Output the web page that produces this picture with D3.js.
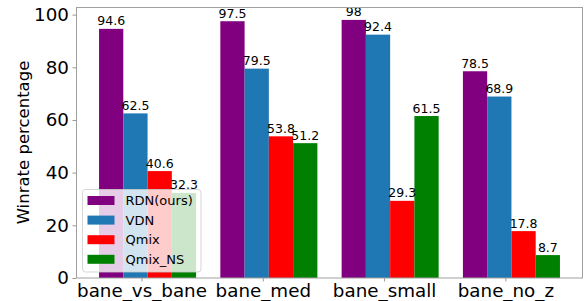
<!DOCTYPE html>
<html>
<head>
<meta charset="utf-8">
<script src="https://cdn.jsdelivr.net/npm/d3@7"></script>
<style>
  body { margin: 0; background: #fff; }
  svg { display: block; font-family: "DejaVu Sans", sans-serif; }
</style>
</head>
<body>
<div id="chart"></div>
<script>
// categories on the x axis
const categories = ["bane_vs_bane", "bane_med", "bane_small", "bane_no_z"];
// methods (legend order)
const methods = ["RDN(ours)", "VDN", "Qmix", "Qmix_NS"];
const methodColors = ["#800080", "#1f77b4", "#ff0000", "#008000"];
// win rates per method, one value per category
const rdn = [94.6, 97.5, 98, 78.5];
const vdn = [62.5, 79.5, 92.4, 68.9];
const qmix = [40.6, 53.8, 29.3, 17.8];
const qmixNs = [32.3, 51.2, 61.5, 8.7];
const yTicks = [0, 20, 40, 60, 80, 100];

const seriesValues = [rdn, vdn, qmix, qmixNs];

const width = 587, height = 301;
const margin = { top: 7, right: 4, bottom: 23, left: 76 };
const plotW = width - margin.left - margin.right;
const plotH = height - margin.top - margin.bottom;

const svg = d3.select("#chart")
  .append("svg")
  .attr("width", width)
  .attr("height", height);

// x is numeric (category index) like matplotlib's bar positions
const barW = 0.2;
const x = d3.scaleLinear().domain([-0.54, 3.64]).range([margin.left, margin.left + plotW]);
const y = d3.scaleLinear().domain([0, 102.9]).range([margin.top + plotH, margin.top]);

// flatten into bar records
const bars = [];
seriesValues.forEach((vals, si) => {
  vals.forEach((v, ci) => {
    bars.push({ s: si, c: ci, v: v });
  });
});

// bars
svg.append("g")
  .selectAll("rect")
  .data(bars)
  .join("rect")
  .attr("x", d => x(d.c + (d.s - 1.75) * barW))
  .attr("y", d => y(d.v))
  .attr("width", x(barW) - x(0))
  .attr("height", d => y(0) - y(d.v))
  .attr("fill", d => methodColors[d.s]);

// value labels
svg.append("g")
  .selectAll("text")
  .data(bars)
  .join("text")
  .attr("x", d => x(d.c + (d.s - 1.25) * barW))
  .attr("y", d => y(d.v) - 3.5)
  .attr("text-anchor", "middle")
  .style("font-size", "12.5px")
  .attr("fill", "#000")
  .text(d => d.v);

// y axis
const yAxis = svg.append("g")
  .attr("transform", `translate(${margin.left},0)`)
  .call(d3.axisLeft(y).tickValues(yTicks).tickSize(3.5).tickPadding(3.5))
  .attr("font-family", null)
  .attr("font-size", null);
yAxis.select(".domain").remove();
yAxis.selectAll("line").attr("stroke", "#999");
yAxis.selectAll("text").style("font-size", "18.3px").attr("fill", "#000");

// x axis
const xAxis = svg.append("g")
  .attr("transform", `translate(0,${margin.top + plotH})`)
  .call(d3.axisBottom(x).tickValues(d3.range(categories.length)).tickFormat(i => categories[i]).tickSize(3.5).tickPadding(2.5))
  .attr("font-family", null)
  .attr("font-size", null);
xAxis.select(".domain").remove();
xAxis.selectAll("line").attr("stroke", "#999");
xAxis.selectAll("text").style("font-size", "18.3px").attr("fill", "#000");

// frame
svg.append("rect")
  .attr("x", margin.left + 0.5)
  .attr("y", margin.top + 0.5)
  .attr("width", plotW - 1)
  .attr("height", plotH - 0.5)
  .attr("fill", "none")
  .attr("stroke", "#a0a0a0")
  .attr("stroke-width", 1);

// y label
svg.append("text")
  .attr("transform", `translate(29,${margin.top + plotH / 2}) rotate(-90)`)
  .attr("text-anchor", "middle")
  .style("font-size", "16.5px")
  .text("Winrate percentage");

// legend
const legend = svg.append("g").attr("transform", "translate(82.5,189.5)");
legend.append("rect")
  .attr("width", 118.5)
  .attr("height", 82.5)
  .attr("rx", 3)
  .attr("fill", "rgba(255,255,255,0.8)")
  .attr("stroke", "rgba(204,204,204,0.8)");
const items = legend.selectAll(".item")
  .data(methods)
  .join("g")
  .attr("class", "item")
  .attr("transform", (d, i) => `translate(0,${11 + i * 19.6})`);
items.append("rect")
  .attr("x", 5)
  .attr("y", -4.5)
  .attr("width", 27)
  .attr("height", 9)
  .attr("fill", (d, i) => methodColors[i]);
items.append("text")
  .attr("x", 43)
  .attr("y", 0)
  .attr("dy", "0.36em")
  .style("font-size", "13px")
  .text(d => d);
</script>
</body>
</html>
